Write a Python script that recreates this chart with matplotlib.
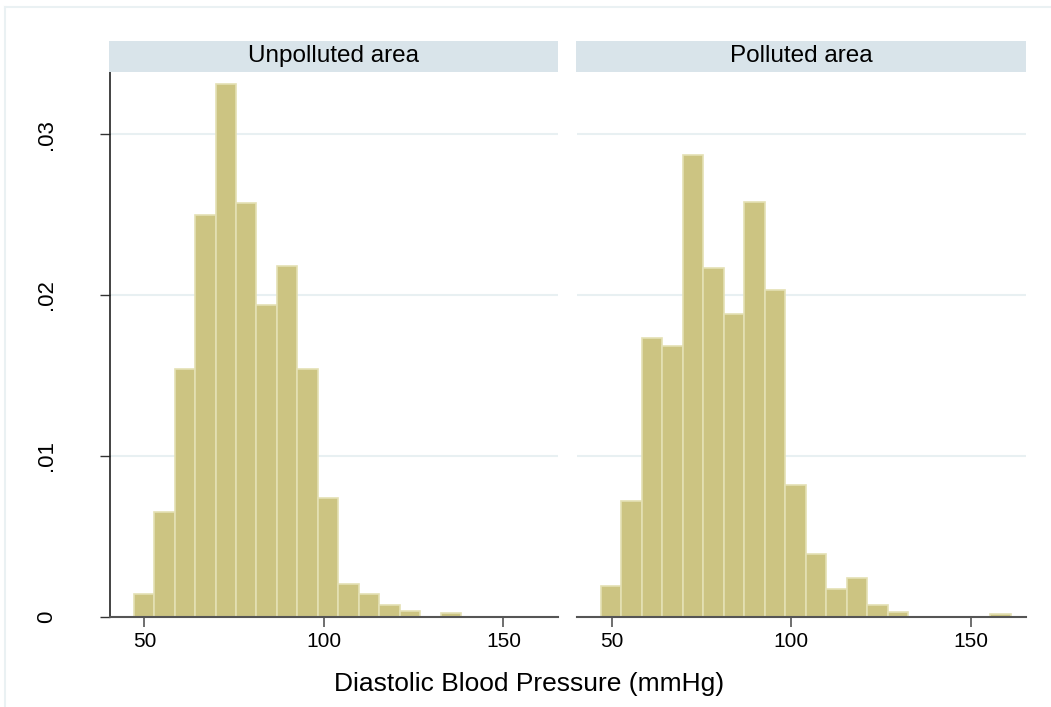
import numpy as np
import matplotlib
matplotlib.use("Agg")
import matplotlib.pyplot as plt
from matplotlib.patches import Rectangle
from matplotlib.lines import Line2D

plt.rcParams['font.family'] = ['Liberation Sans', 'DejaVu Sans']

# Histogram bins (lower edges, mmHg) shared by both panels
bin_width = 5.7
bin_left = [47.0, 52.7, 58.4, 64.1, 69.8, 75.5, 81.2, 86.9, 92.6, 98.3,
            104.0, 109.7, 115.4, 121.1, 126.8, 132.5, 138.2, 143.9, 149.6, 155.3]

# Densities
unpolluted = [0.0014, 0.0065, 0.0154, 0.0250, 0.0331, 0.0257, 0.0194, 0.0218, 0.0154, 0.0074,
              0.0020, 0.0014, 0.0007, 0.00035, 0.0, 0.0002, 0.0, 0.0, 0.0, 0.0]
polluted = [0.0019, 0.0072, 0.0173, 0.0168, 0.0287, 0.0217, 0.0188, 0.0258, 0.0203, 0.0082,
            0.0039, 0.0017, 0.0024, 0.0007, 0.0003, 0.0, 0.0, 0.0, 0.0, 0.00016]

panel_titles = ['Unpolluted area', 'Polluted area']
x_ticks = [50, 100, 150]
y_ticks = [0, 0.01, 0.02, 0.03]
y_ticklabels = ['0', '.01', '.02', '.03']
x_title = 'Diastolic Blood Pressure (mmHg)'

W, H = 1051, 707
fig = plt.figure(figsize=(W / 100, H / 100), dpi=100)
fig.patch.set_facecolor('white')

# outer frame (only top/left visible in the reference)
fig.add_artist(Line2D([5 / W, 5 / W], [0, 1 - 7 / H], color='#eaf1f3', lw=1.5))
fig.add_artist(Line2D([5 / W, 1], [1 - 7 / H, 1 - 7 / H], color='#eaf1f3', lw=1.5))

bar_color = '#ccc482'
edge_color = '#e4e0b4'
header_color = '#d9e4ea'

panels = [(110, 558, unpolluted), (577, 1026, polluted)]
ax_top, ax_bottom = 71.5, 616.5
head_top = 40.5

for i, (x0, x1, dens) in enumerate(panels):
    ax = fig.add_axes([x0 / W, 1 - ax_bottom / H, (x1 - x0) / W, (ax_bottom - ax_top) / H])
    xs = [b for b, d in zip(bin_left, dens) if d > 0]
    hs = [d for d in dens if d > 0]
    ax.bar(xs, hs, width=bin_width, align='edge', color=bar_color,
           edgecolor=edge_color, linewidth=1.2, zorder=2)
    ax.set_xlim(40.4, 165.2)
    ax.set_ylim(0, 0.0339)
    for y in y_ticks[1:]:
        ax.axhline(y, color='#e8f0f2', lw=1.5, zorder=1)
    for s in ['top', 'right']:
        ax.spines[s].set_visible(False)
    ax.spines['bottom'].set_color('#555555')
    ax.spines['bottom'].set_linewidth(1.5)
    ax.set_xticks(x_ticks)
    ax.set_xticklabels([str(t) for t in x_ticks], fontsize=15)
    ax.tick_params(axis='x', length=7, width=1.2, color='#555555', pad=4)
    if i == 0:
        ax.spines['left'].set_color('#222222')
        ax.spines['left'].set_linewidth(1.2)
        ax.set_yticks(y_ticks)
        ax.set_yticklabels(y_ticklabels, fontsize=16, rotation=90, va='center')
        ax.tick_params(axis='y', length=7, width=1.0, color='#333333', pad=31)
    else:
        ax.spines['left'].set_visible(False)
        ax.set_yticks([])

    # panel header strip
    fig.add_artist(Rectangle((x0 / W - 1 / W, 1 - ax_top / H), (x1 - x0 + 1) / W,
                             (ax_top - head_top) / H, transform=fig.transFigure,
                             facecolor=header_color, edgecolor='none'))
    fig.text((x0 + x1) / 2 / W, 1 - (ax_top + head_top) / 2 / H, panel_titles[i],
             ha='center', va='center', fontsize=17.5)

fig.text(529 / W, 1 - 684 / H, x_title, ha='center', va='center', fontsize=19)

fig.savefig('out.png', dpi=100)
